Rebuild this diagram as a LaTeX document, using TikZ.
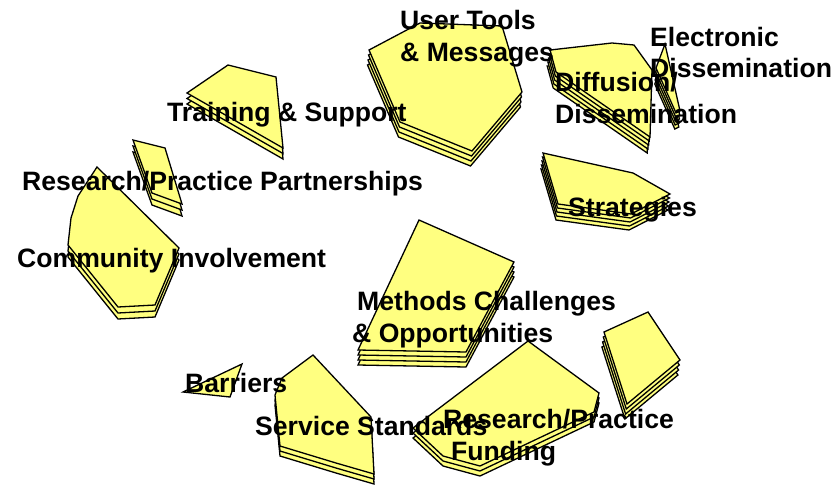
\documentclass[tikz,border=0pt]{standalone}
\usepackage{fontspec}
\setmainfont{Liberation Sans}
\definecolor{paper}{RGB}{255,255,128}
\newcommand{\layered}[4]{\foreach \k in {#1,...,0}{\draw[poly,xshift={\k*(#2)*1pt},yshift={-\k*(#3)*1pt}] #4 -- cycle;}}
\tikzset{
  poly/.style={draw=black,fill=paper,line width=1.3pt,line join=miter},
  lab/.style={anchor=base west,inner sep=0pt,font=\bfseries\fontsize{26.6}{32}\selectfont}
}
\begin{document}
\begin{tikzpicture}[x=1pt,y=-1pt]
\useasboundingbox (0,0) rectangle (837,485);
% User Tools & Messages
\layered{3}{-0.5}{5}{(369,50) -- (420,23) -- (502,26) -- (522,92) -- (472,151) -- (400,122)}
% Diffusion/Dissemination
\layered{4}{-0.7}{4}{(550,50) -- (612,43) -- (634,45) -- (652,70) -- (650,137) -- (556,72)}
% Electronic Dissemination
\layered{4}{-0.3}{4}{(665,44) -- (680,111) -- (676,113) -- (656,68)}
% Training & Support
\layered{2}{0}{5.5}{(187,93) -- (228,65) -- (276,77) -- (283,148)}
% Research/Practice Partnerships
\layered{2}{0}{6}{(133,140) -- (165,148) -- (182,204) -- (152,193)}
% Community Involvement
\layered{2}{0}{6}{(97,167) -- (179,248) -- (155,305) -- (118,307) -- (68,245) -- (71,218) -- (78,196)}
% Strategies
\layered{4}{-0.5}{4}{(543,153) -- (633,173) -- (670,194) -- (631,214) -- (558,204)}
% Methods Challenges & Opportunities
\layered{3}{0}{5}{(419,220) -- (514,262) -- (466,352) -- (358,350)}
% right shape
\layered{3}{-0.7}{5}{(648,312) -- (680,360) -- (627,404) -- (604,332)}
% Barriers
\draw[poly] (242,364) -- (183,392) -- (230,397) -- cycle;
% Service Standards
\layered{2}{0}{5}{(313,355) -- (371,417) -- (374,474) -- (336,463) -- (280,446) -- (275,395) -- (282,378)}
% Research/Practice Funding
\layered{2}{0}{5}{(528,341) -- (599,393) -- (594,412) -- (480,466) -- (443,456) -- (413,428)}
% labels
\node[lab] (ut1) at (400,29.4) {User Tools};
\node[lab] (ut2) at (400,61.4) {\& Messages};
\node[lab] (ed1) at (650,46.4) {Electronic};
\node[lab] (ed2) at (650,77.4) {Dissemination};
\node[lab] (dd1) at (555,91.4) {Diffusion/};
\node[lab] (dd2) at (555,123.4) {Dissemination};
\node[lab] (ts) at (167,121.4) {Training \& Support};
\node[lab] (rp) at (22,190.4) {Research/Practice Partnerships};
\node[lab] (st) at (568,216.4) {Strategies};
\node[lab] (ci) at (17,267.4) {Community Involvement};
\node[lab] (mc1) at (357,310.4) {Methods Challenges};
\node[lab] (mc2) at (352,342.4) {\& Opportunities};
\node[lab] (ba) at (185,392.4) {Barriers};
\node[lab] (ss) at (255,435.4) {Service Standards};
\node[lab] (rf1) at (443,428.4) {Research/Practice};
\node[lab] (rf2) at (451,460.4) {Funding};
\end{tikzpicture}
\end{document}
